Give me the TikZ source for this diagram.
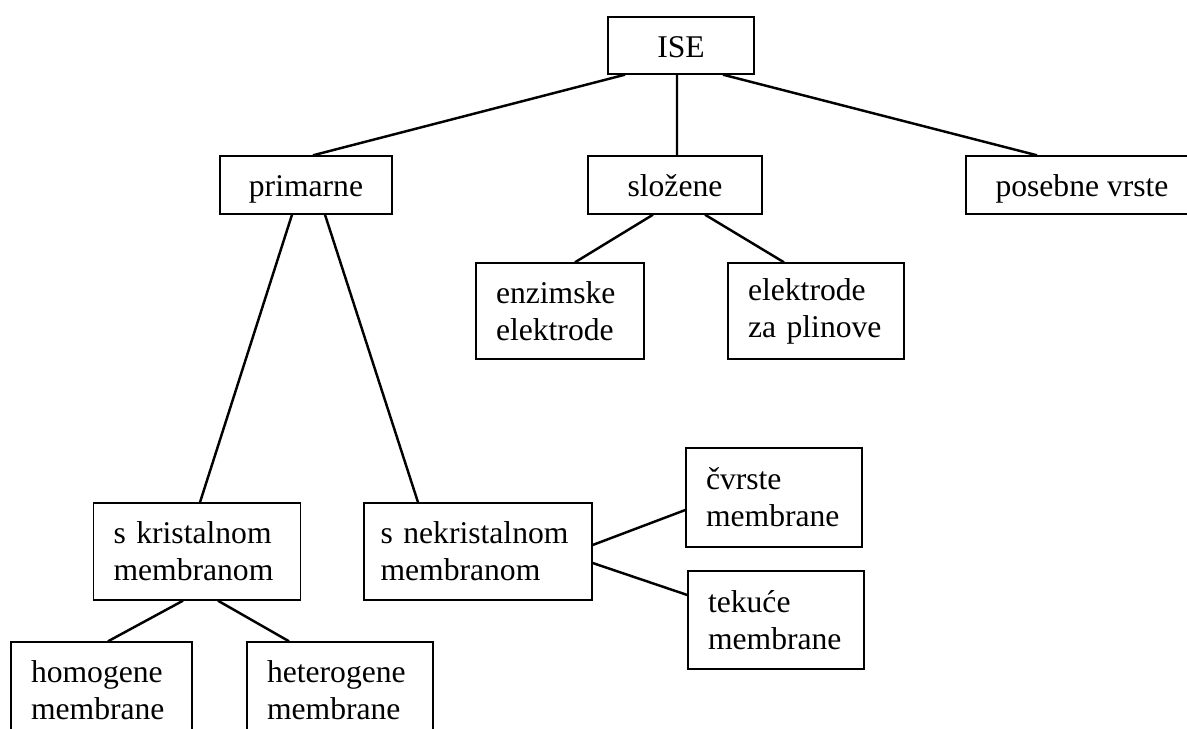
\documentclass[tikz,border=0pt]{standalone}
\usepackage{fontspec}
\setmainfont{Liberation Serif}
\begin{document}
\begin{tikzpicture}[x=0.02cm,y=-0.02cm]
	\tikzset{
		every node/.style={font=\fontsize{18}{21}\selectfont},
		% okvir, jedan red
		okvir/.style={draw,line width=.8pt,inner sep=0pt,align=center,text height=13.6pt,text depth=0pt},
		% okvir, dva reda
		okvir2/.style={draw,line width=.8pt,inner xsep=.4cm,inner ysep=0pt,align=left},
		% spojnica
		veza/.style={line width=1.4pt},
	}
	\useasboundingbox (0,0) rectangle (1187,729);
	\clip (0,0) rectangle (1187,729);
	%
	\node[okvir,minimum width=2.92cm,minimum height=1.14cm] (ise) at (681,45.5) {ISE};
	\node[okvir,minimum width=3.44cm,minimum height=1.16cm] (prim) at (306,185) {primarne};
	\node[okvir,minimum width=3.48cm,minimum height=1.16cm] (slo) at (675,185) {složene};
	\node[okvir,minimum width=4.64cm,minimum height=1.16cm] (pos) at (1082,185) {posebne vrste};
	%
	\node[okvir2,text width=2.56cm,minimum height=1.92cm] (enz) at (560,311) {enzimske\\elektrode};
	\node[okvir2,text width=2.72cm,minimum height=1.92cm] (plin) at (816,311) {elektrode\\za plinove};
	%
	\node[okvir2,text width=3.34cm,minimum height=1.94cm] (kris) at (197,551.5) {s kristalnom\\membranom};
	\node[okvir2,inner xsep=.33cm,text width=3.9cm,minimum height=1.94cm] (nekr) at (478,551.5) {s nekristalnom\\membranom};
	\node[okvir2,text width=2.72cm,minimum height=1.98cm] (cvr) at (774,497.5) {čvrste\\membrane};
	\node[okvir2,text width=2.72cm,minimum height=1.96cm] (tek) at (776,620) {tekuće\\membrane};
	%
	\node[okvir2,text width=2.82cm,minimum height=1.92cm] (hom) at (101.5,690) {homogene\\membrane};
	\node[okvir2,text width=2.92cm,minimum height=1.92cm] (het) at (340,690) {heterogene\\membrane};
	%
	\draw[veza] (ise.south -| 625,0)--(prim.north -| 313,0)
		(ise.south -| 677,0)--(slo.north -| 677,0)
		(ise.south -| 723,0)--(pos.north -| 1037,0)
		(slo.south -| 653,0)--(enz.north -| 575,0)
		(slo.south -| 705,0)--(plin.north -| 784,0)
		(prim.south -| 292,0)--(kris.north -| 200,0)
		(prim.south -| 325,0)--(nekr.north -| 418,0)
		(nekr.east |- 0,545)--(cvr.west |- 0,510)
		(nekr.east |- 0,563)--(tek.west |- 0,595)
		(kris.south -| 183,0)--(hom.north -| 108,0)
		(kris.south -| 218,0)--(het.north -| 289,0);
\end{tikzpicture}
\end{document}
